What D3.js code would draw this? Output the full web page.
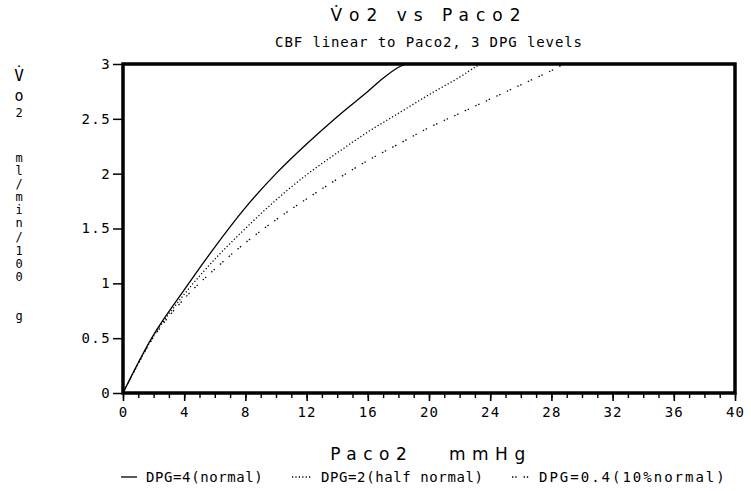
<!DOCTYPE html>
<html>
<head>
<meta charset="utf-8">
<script src="https://cdn.jsdelivr.net/npm/d3@7"></script>
<style>
  body { margin: 0; background: #fff; }
  svg { display: block; }
  text { fill: #000; }
  .mono { font-family: "DejaVu Sans Mono", monospace; }
</style>
</head>
<body>
<script>
// data (Paco2 mmHg -> Vo2 ml/min/100g)
const dpg4X = [0, 2, 4, 6, 8, 10, 12, 14, 16, 17, 18, 18.5];
const dpg4Y = [0, 0.53, 0.94, 1.33, 1.69, 2.0, 2.27, 2.52, 2.75, 2.87, 2.97, 3.0];
const dpg2X = [0, 2, 4, 6, 8, 10, 12, 14, 16, 18, 20, 22, 23, 23.4];
const dpg2Y = [0, 0.52, 0.90, 1.22, 1.50, 1.76, 1.99, 2.19, 2.38, 2.55, 2.72, 2.88, 2.97, 3.0];
const dpg04X = [0, 2, 4, 6, 8, 10, 12, 14, 16, 18, 20, 22, 24, 26, 28, 28.8];
const dpg04Y = [0, 0.51, 0.86, 1.13, 1.37, 1.58, 1.77, 1.95, 2.12, 2.27, 2.42, 2.55, 2.68, 2.81, 2.94, 3.0];
const seriesNames = ["DPG=4(normal)", "DPG=2(half normal)", "DPG=0.4(10%normal)"];
const yTicks = [0, 0.5, 1, 1.5, 2, 2.5, 3];
const xMajor = [0, 4, 8, 12, 16, 20, 24, 28, 32, 36, 40];

let width = 751, height = 491;
let margin = {top: 64, right: 16, bottom: 98, left: 123};

let svg = d3.select("body").append("svg").attr("width", width).attr("height", height);

let x = d3.scaleLinear().domain([0, 40]).range([margin.left, width - margin.right]);
let y = d3.scaleLinear().domain([0, 3]).range([height - margin.bottom, margin.top]);

let dashes = [null, "1.2,2.2", "1.4,1.8,1.4,7"];
let all = [[dpg4X, dpg4Y], [dpg2X, dpg2Y], [dpg04X, dpg04Y]];

// curves
let line = d3.line()
  .x((d) => x(d[0])).y((d) => y(d[1]))
  .curve(d3.curveCatmullRom.alpha(0.5));

all.forEach((s, i) => {
  let pts = s[0].map((p, j) => [p, s[1][j]]);
  svg.append("path").datum(pts)
    .attr("d", line)
    .attr("fill", "none").attr("stroke", "#000")
    .attr("stroke-width", 1.3)
    .attr("stroke-dasharray", dashes[i]);
});

// axes
let yAxis = svg.append("g").attr("transform", `translate(${x(0)},0)`)
  .call(d3.axisLeft(y).tickValues(yTicks).tickSize(10).tickPadding(2)
    .tickFormat((d) => d3.format("")(d)));
yAxis.select(".domain").remove();
yAxis.selectAll("line").attr("stroke-width", 1.5);
yAxis.selectAll("text").attr("class", "mono").attr("font-size", 14).attr("font-family", null)
  .attr("letter-spacing", 1.4);

let xMinor = svg.append("g").attr("transform", `translate(0,${y(0)})`)
  .call(d3.axisBottom(x).ticks(40).tickSize(5).tickFormat(""));
xMinor.select(".domain").remove();
xMinor.selectAll("line").attr("stroke-width", 1.4);

let xAxis = svg.append("g").attr("transform", `translate(0,${y(0)})`)
  .call(d3.axisBottom(x).tickValues(xMajor).tickSize(8).tickPadding(6));
xAxis.select(".domain").remove();
xAxis.selectAll("line").attr("stroke-width", 1.6);
xAxis.selectAll("text").attr("class", "mono").attr("font-size", 14).attr("font-family", null)
  .attr("letter-spacing", 1.2);

// frame
svg.append("rect")
  .attr("x", x(0)).attr("y", y(3))
  .attr("width", x(40) - x(0)).attr("height", y(0) - y(3))
  .attr("fill", "none").attr("stroke", "#000").attr("stroke-width", 3.5);

// title
let cx = (x(0) + x(40)) / 2;
svg.append("text").attr("x", cx).attr("y", 21).attr("text-anchor", "middle")
  .attr("font-family", "DejaVu Sans").attr("font-size", 17).attr("letter-spacing", 7)
  .text("V\u0307o2 vs Paco2");

svg.append("text").attr("class", "mono").attr("x", cx).attr("y", 47).attr("text-anchor", "middle")
  .attr("font-size", 14).attr("letter-spacing", 0.9)
  .text("CBF linear to Paco2, 3 DPG levels");

// x axis title
svg.append("text").attr("x", cx + 2).attr("y", 460).attr("text-anchor", "middle")
  .attr("font-family", "DejaVu Sans").attr("font-size", 17).attr("letter-spacing", 6.5)
  .attr("xml:space", "preserve")
  .text("Paco2   mmHg");

// y axis title, stacked letters
let yLab = [["V\u0307", 76, 16], ["o", 96, 15], ["2", 112, 12], ["m", 157, 12], ["l", 170, 12], ["/", 183, 12], ["m", 196, 12],
  ["i", 209, 12], ["n", 222, 12], ["/", 236, 12], ["1", 250, 12], ["0", 263, 12], ["0", 276, 12], ["g", 315, 12]];
svg.append("g").selectAll("text").data(yLab).join("text")
  .attr("class", "mono").attr("x", 19).attr("y", (d) => d[1] + 4.5)
  .attr("text-anchor", "middle").attr("font-size", (d) => d[2])
  .text((d) => d[0]);

// legend
let legX = [121, 292, 512];
let legW = [16, 20, 18];
let leg = svg.append("g");
seriesNames.forEach((n, i) => {
  leg.append("line").attr("x1", legX[i]).attr("x2", legX[i] + legW[i])
    .attr("y1", 477).attr("y2", 477)
    .attr("stroke", "#000").attr("stroke-width", 1.3)
    .attr("stroke-dasharray", dashes[i]);
  leg.append("text").attr("class", "mono").attr("x", legX[i] + legW[i] + 9).attr("y", 482)
    .attr("font-size", 14).attr("letter-spacing", i == 2 ? 2 : 0.6)
    .text(n);
});
</script>
</body>
</html>
